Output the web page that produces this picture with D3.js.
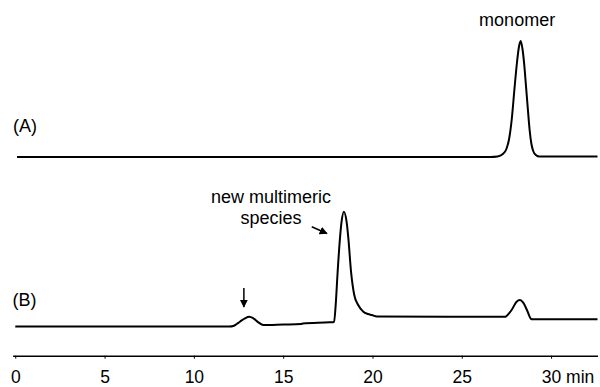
<!DOCTYPE html>
<html>
<head>
<meta charset="utf-8">
<script src="https://cdn.jsdelivr.net/npm/d3@7"></script>
<style>
  html, body { margin: 0; padding: 0; background: #fff; }
  svg text { font-family: "Liberation Sans", Arial, sans-serif; fill: #000; }
</style>
</head>
<body>
<svg id="chart" width="600" height="387"></svg>
<script>
// ---- Data (time in min, signal in arbitrary absorbance units) ----
const timeA = [0.1, 26.6, 27.0, 27.3, 27.5, 27.65, 27.8, 27.95, 28.1, 28.2, 28.3, 28.4, 28.5, 28.6, 28.7, 28.8, 28.9, 29.0, 29.15, 29.35, 32.6];
const signalA = [0, 0, 0.5, 3, 8, 18, 38, 68, 96, 110, 116, 108, 92, 70, 48, 27, 13, 6, 2, 0.4, 0.4];

const timeB = [0, 12.0, 12.21, 12.40, 12.58, 12.86, 13.10, 13.33, 13.61, 13.89, 15.0, 16.0, 16.1, 17.6, 17.85,
               17.94, 18.05, 18.18, 18.27, 18.40, 18.55, 18.65, 18.80, 18.98, 19.20, 19.49, 19.75, 19.96, 20.25,
               27.45, 27.51, 27.79, 28.07, 28.26, 28.44, 28.65, 28.88, 28.95, 32.6];
const signalB = [0, 0, 0.5, 2.5, 4.8, 8.2, 9.8, 8.2, 4.2, 1.5, 2.0, 2.5, 3.0, 4.2, 4.5,
                 21.5, 54.8, 88.2, 104.8, 114.8, 104.8, 88.2, 54.8, 31.5, 21.5, 14.8, 12.5, 11.5, 10,
                 9.8, 10.5, 16.5, 24.8, 26.5, 23.8, 16.5, 7.5, 7.2, 7.2];

const traceLabels = ["(A)", "(B)"];
const xTicks = [0, 5, 10, 15, 20, 25, 30];
const xUnit = "min";
const monomerLabel = "monomer";
const multimerLabel = ["new multimeric", "species"];

// ---- Layout ----
const svg = d3.select("#chart");
const FONT = 18;
const AXIS_FONT = 17.5;

const x = d3.scaleLinear().domain([-0.15, 32.6]).range([12.6, 597.5]);
const yA = d3.scaleLinear().domain([0, 120]).range([157, 37]);
const yB = d3.scaleLinear().domain([0, 120]).range([326.5, 206.5]);

const line = (ys) => d3.line()
  .x(d => x(d[0]))
  .y(d => ys(d[1]))
  .curve(d3.curveMonotoneX);

const dataA = timeA.map((t, i) => [t, signalA[i]]);
const dataB = timeB.map((t, i) => [t, signalB[i]]);

svg.append("path").datum(dataA)
  .attr("d", line(yA)).attr("fill", "none")
  .attr("stroke", "#000").attr("stroke-width", 2).attr("stroke-linejoin", "round");
svg.append("path").datum(dataB)
  .attr("d", line(yB)).attr("fill", "none")
  .attr("stroke", "#000").attr("stroke-width", 2).attr("stroke-linejoin", "round");

// ---- Axis ----
const axisY = 355.7;
const labelBaseline = 383;
const axis = d3.axisBottom(x).tickValues(xTicks).tickSize(3).tickSizeOuter(0).tickFormat(d3.format("d"));
const gx = svg.append("g").attr("transform", `translate(0,${axisY})`).call(axis);
gx.select(".domain").attr("stroke", "#000").attr("stroke-width", 1.4);
gx.selectAll(".tick line").attr("stroke", "#000").attr("stroke-width", 1);
gx.selectAll(".tick text")
  .attr("y", labelBaseline - axisY).attr("dy", null)
  .attr("font-size", AXIS_FONT).attr("font-family", "Liberation Sans, Arial, sans-serif").attr("fill", "#000");
svg.append("text").attr("x", x(30) + 15).attr("y", labelBaseline)
  .attr("font-size", AXIS_FONT).text(xUnit);

// ---- Trace labels ----
svg.append("text").attr("x", 13).attr("y", 132).attr("font-size", FONT).text(traceLabels[0]);
svg.append("text").attr("x", 12.5).attr("y", 306).attr("font-size", FONT).text(traceLabels[1]);

// ---- Annotations ----
svg.append("text").attr("x", x(28.1)).attr("y", 26).attr("text-anchor", "middle")
  .attr("font-size", FONT).text(monomerLabel);
svg.append("text").attr("x", x(14.32)).attr("y", 202.7).attr("text-anchor", "middle")
  .attr("font-size", FONT).text(multimerLabel[0]);
svg.append("text").attr("x", x(14.32)).attr("y", 224.3).attr("text-anchor", "middle")
  .attr("font-size", FONT).text(multimerLabel[1]);

const defs = svg.append("defs");
defs.append("marker").attr("id", "ah")
  .attr("viewBox", "0 0 10 10").attr("refX", 9).attr("refY", 5)
  .attr("markerWidth", 8).attr("markerHeight", 8).attr("markerUnits", "userSpaceOnUse")
  .attr("orient", "auto")
  .append("path").attr("d", "M0,0 L10,5 L0,10 Z").attr("fill", "#000");

// arrow to small bump
svg.append("line")
  .attr("x1", x(12.8)).attr("y1", yB(38.5))
  .attr("x2", x(12.8)).attr("y2", yB(19.5))
  .attr("stroke", "#000").attr("stroke-width", 1.5).attr("marker-end", "url(#ah)");
// arrow to multimeric peak
svg.append("line")
  .attr("x1", x(16.6)).attr("y1", yB(99.8))
  .attr("x2", x(17.45)).attr("y2", yB(93.0))
  .attr("stroke", "#000").attr("stroke-width", 1.5).attr("marker-end", "url(#ah)");
</script>
</body>
</html>
